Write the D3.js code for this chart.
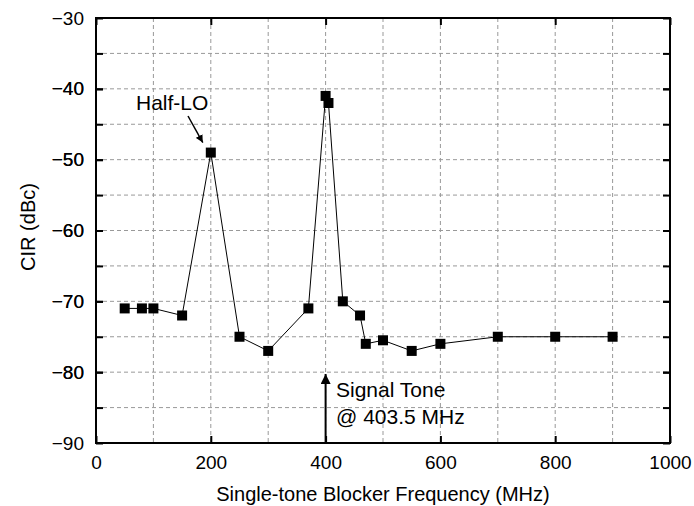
<!DOCTYPE html>
<html>
<head>
<meta charset="utf-8">
<script src="https://cdn.jsdelivr.net/npm/d3@7"></script>
<style>
  body { margin: 0; background: #fff; }
  text { font-family: Arial, 'Liberation Sans', sans-serif; fill: #000; }
</style>
</head>
<body>
<svg width="694" height="506"></svg>
<script>
var freq = [50, 80, 100, 150, 200, 250, 300, 370, 400, 405, 430, 460, 470, 500, 550, 600, 700, 800, 900]
var cir = [-71, -71, -71, -72, -49, -75, -77, -71, -41, -42, -70, -72, -76, -75.5, -77, -76, -75, -75, -75]
var xTicks = [0, 200, 400, 600, 800, 1000]
var yTicks = [-30, -40, -50, -60, -70, -80, -90]
var xGrid = [100, 200, 300, 400, 500, 600, 700, 800, 900]
var yGrid = [-35, -40, -45, -50, -55, -60, -65, -70, -75, -80, -85]

var data = freq.map((f, i) => ({ x: f, y: cir[i] }))

var svg = d3.select('svg')
var m = { l: 96, t: 18, r: 670, b: 443 }

var x = d3.scaleLinear().domain([0, 1000]).range([m.l, m.r])
var y = d3.scaleLinear().domain([-90, -30]).range([m.b, m.t])

// grid
svg.append('g').selectAll('line')
  .data(xGrid)
  .enter().append('line')
  .attr('x1', (d) => x(d)).attr('x2', (d) => x(d))
  .attr('y1', m.t).attr('y2', m.b)
  .style('stroke', '#999').style('stroke-dasharray', '4,3')

svg.append('g').selectAll('line')
  .data(yGrid)
  .enter().append('line')
  .attr('y1', (d) => y(d)).attr('y2', (d) => y(d))
  .attr('x1', m.l).attr('x2', m.r)
  .style('stroke', '#999').style('stroke-dasharray', '4,3')

// axes (ticks point inward)
var xb = svg.append('g').attr('transform', 'translate(0,' + m.b + ')')
  .call(d3.axisBottom(x).tickValues(xTicks).tickSizeInner(-7).tickSizeOuter(0).tickPadding(13).tickFormat(d3.format('d')))
var xt = svg.append('g').attr('transform', 'translate(0,' + m.t + ')')
  .call(d3.axisTop(x).tickValues(xTicks).tickSizeInner(-7).tickSizeOuter(0).tickFormat(''))
var yl = svg.append('g').attr('transform', 'translate(' + m.l + ',0)')
  .call(d3.axisLeft(y).tickValues(yGrid.concat(yTicks)).tickSizeInner(-7).tickSizeOuter(0).tickPadding(12)
    .tickFormat((d) => (d % 10 === 0) ? d3.format('d')(d).replace('-', '\u2212') : ''))
var yr = svg.append('g').attr('transform', 'translate(' + m.r + ',0)')
  .call(d3.axisRight(y).tickValues(yGrid.concat(yTicks)).tickSizeInner(-7).tickSizeOuter(0).tickFormat(''))

;[xb, xt, yl, yr].forEach((g) => {
  g.select('.domain').remove()
  g.selectAll('line').style('stroke', '#000').style('stroke-width', 2)
  g.selectAll('text').style('font-size', '19px')
})

svg.append('rect')
  .attr('x', m.l).attr('y', m.t)
  .attr('width', m.r - m.l).attr('height', m.b - m.t)
  .style('fill', 'none').style('stroke', '#000').style('stroke-width', 2)

// data
var line = d3.line().x((d) => x(d.x)).y((d) => y(d.y))
svg.append('path')
  .attr('d', line(data))
  .style('fill', 'none').style('stroke', '#000').style('stroke-width', 1)

svg.append('g').selectAll('rect')
  .data(data)
  .enter().append('rect')
  .attr('x', (d) => x(d.x) - 5).attr('y', (d) => y(d.y) - 5)
  .attr('width', 10).attr('height', 10)
  .style('fill', '#000')

// arrow marker
svg.append('defs').append('marker')
  .attr('id', 'arr').attr('viewBox', '0 0 10 10')
  .attr('refX', 10).attr('refY', 5)
  .attr('markerWidth', 5).attr('markerHeight', 5)
  .attr('orient', 'auto')
  .append('path').attr('d', 'M0,0L10,5L0,10z').style('fill', '#000')

// Half-LO annotation
svg.append('text').attr('x', 136).attr('y', 110).style('font-size', '21px').text('Half-LO')
svg.append('line')
  .attr('x1', 188).attr('y1', 116).attr('x2', x(200) - 8).attr('y2', y(-49) - 10)
  .style('stroke', '#000').style('stroke-width', 1.5).attr('marker-end', 'url(#arr)')

// Signal tone annotation
svg.append('line')
  .attr('x1', x(400)).attr('y1', m.b).attr('x2', x(400)).attr('y2', 374)
  .style('stroke', '#000').style('stroke-width', 2).attr('marker-end', 'url(#arr)')
svg.append('text').attr('x', 336).attr('y', 397).style('font-size', '21px').text('Signal Tone')
svg.append('text').attr('x', 336).attr('y', 424).style('font-size', '21px').text('@ 403.5 MHz')

// axis titles
svg.append('text')
  .attr('x', (m.l + m.r) / 2).attr('y', 501)
  .attr('text-anchor', 'middle').style('font-size', '20px')
  .text('Single-tone Blocker Frequency (MHz)')
svg.append('text')
  .attr('transform', 'translate(35,' + 227 + ') rotate(-90)')
  .attr('text-anchor', 'middle').style('font-size', '20px')
  .text('CIR (dBc)')
</script>
</body>
</html>
